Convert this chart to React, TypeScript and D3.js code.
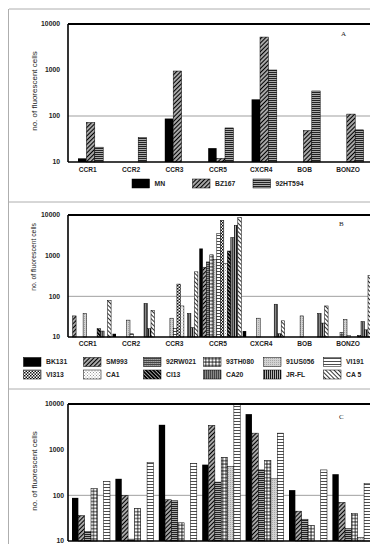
import React from 'react';
import * as d3 from 'd3';

const categories = ['CCR1', 'CCR2', 'CCR3', 'CCR5', 'CXCR4', 'BOB', 'BONZO'];
const yTicks = [10, 100, 1000, 10000];

// panel A isolates
const isolatesA = ['MN', 'BZ167', '92HT594'];
const mnValues = [12, null, 88, 20, 230, null, null];
const bz167Values = [72, null, 950, 12, 5200, 48, 110];
const ht594Values = [21, 34, null, 55, 1000, 350, 50];

// panel B isolates
const isolatesB = ['BK131', 'SM993', '92RW021', '93TH080', '91US056', 'VI191',
  'VI313', 'CA1', 'CI13', 'CA20', 'JR-FL', 'CA 5'];
const bk131Values = [null, 12, null, 1500, 14, null, null];
const sm993Values = [33, null, null, 520, null, null, null];
const rw021Values = [null, null, null, 700, null, null, null];
const th080Values = [null, null, null, 1050, null, null, 13];
const us056Values = [38, 26, 29, 800, 29, 33, 27];
const vi191Values = [null, 12, 16, 3500, null, null, 11];
const vi313Values = [null, null, 200, 7400, null, null, null];
const ca1Values = [null, null, 58, 650, null, null, null];
const ci13Values = [16, null, null, 1300, null, null, 11];
const ca20Values = [14, 67, 38, 2800, 64, 38, 24];
const jrflValues = [null, 16, 17, 5600, 12, 22, 15];
const ca5Values = [80, 45, 400, 8700, 25, 58, 330];

// panel C series (legend falls below the page)
const cSolid = [88, 230, 3500, 470, 6000, 130, 290];
const cHatch = [36, 100, 80, 3400, 2300, 45, 70];
const cGray = [16, 11, 76, 195, 360, 30, 18.6];
const cGrid = [140, 52, 25, 680, 580, 22, 40];
const cDotted = [null, null, null, 430, 230, null, 12];
const cLines = [200, 520, 500, 10000, 2300, 360, 180];

const FONT = 'Liberation Sans, Arial, sans-serif';

const fillsA = ['#000', 'url(#p-hatch)', 'url(#p-hdense)'];
const fillsB = ['#000', 'url(#p-hatch)', 'url(#p-rw)', 'url(#p-grid)', 'url(#p-dot)', 'url(#p-lines)',
  'url(#p-check)', 'url(#p-lcheck)', 'url(#p-dark)', 'url(#p-vgray)', 'url(#p-vblack)', 'url(#p-back)'];
const fillsC = ['#000', 'url(#p-hatch)', 'url(#p-hdense)', 'url(#p-grid)', 'url(#p-dot)', 'url(#p-lines)'];

const x = d3.scaleBand<string>().domain(categories).range([68, 371.8]).padding(0);

type Series = { name: string; fill: string; values: (number | null)[] };

const Patterns = () => (
  <defs>
    <pattern id="p-hatch" width={3} height={3} patternUnits="userSpaceOnUse" patternTransform="rotate(45)">
      <rect width={3} height={3} fill="#fff" />
      <line x1={1.5} y1={0} x2={1.5} y2={3} stroke="#000" strokeWidth={1.7} />
    </pattern>
    <pattern id="p-back" width={3} height={3} patternUnits="userSpaceOnUse" patternTransform="rotate(-45)">
      <rect width={3} height={3} fill="#fff" />
      <line x1={1.5} y1={0} x2={1.5} y2={3} stroke="#000" strokeWidth={0.8} />
    </pattern>
    <pattern id="p-dark" width={2.6} height={2.6} patternUnits="userSpaceOnUse" patternTransform="rotate(-45)">
      <rect width={2.6} height={2.6} fill="#000" />
      <line x1={1.3} y1={0} x2={1.3} y2={2.6} stroke="#fff" strokeWidth={0.6} />
    </pattern>
    <pattern id="p-hdense" width={2} height={2} patternUnits="userSpaceOnUse">
      <rect width={2} height={2} fill="#aaa" />
      <line x1={0} y1={0.5} x2={2} y2={0.5} stroke="#222" strokeWidth={1} />
    </pattern>
    <pattern id="p-rw" width={2} height={2} patternUnits="userSpaceOnUse">
      <rect width={2} height={2} fill="#888" />
      <line x1={0} y1={0.5} x2={2} y2={0.5} stroke="#444" strokeWidth={1} />
      <rect x={1} y={1} width={0.7} height={0.7} fill="#bbb" />
    </pattern>
    <pattern id="p-grid" width={3.4} height={3.4} patternUnits="userSpaceOnUse">
      <rect width={3.4} height={3.4} fill="#fff" />
      <path d="M1.7,0V3.4M0,1.7H3.4" stroke="#000" strokeWidth={0.8} />
    </pattern>
    <pattern id="p-dot" width={2} height={2} patternUnits="userSpaceOnUse">
      <rect width={2} height={2} fill="#d2d2d2" />
      <rect width={1} height={1} fill="#a8a8a8" />
    </pattern>
    <pattern id="p-lines" width={4} height={3} patternUnits="userSpaceOnUse">
      <rect width={4} height={3} fill="#fff" />
      <line x1={0} y1={1.5} x2={4} y2={1.5} stroke="#000" strokeWidth={0.7} />
    </pattern>
    <pattern id="p-check" width={3} height={3} patternUnits="userSpaceOnUse">
      <rect width={3} height={3} fill="#fff" />
      <rect width={1.5} height={1.5} fill="#111" />
      <rect x={1.5} y={1.5} width={1.5} height={1.5} fill="#111" />
    </pattern>
    <pattern id="p-lcheck" width={3} height={3} patternUnits="userSpaceOnUse">
      <rect width={3} height={3} fill="#fff" />
      <rect width={1} height={1} fill="#999" />
      <rect x={1.5} y={1.5} width={1} height={1} fill="#999" />
    </pattern>
    <pattern id="p-vgray" width={2} height={2} patternUnits="userSpaceOnUse">
      <rect width={2} height={2} fill="#888" />
      <line x1={0.5} y1={0} x2={0.5} y2={2} stroke="#333" strokeWidth={0.8} />
    </pattern>
    <pattern id="p-vblack" width={2} height={2} patternUnits="userSpaceOnUse">
      <rect width={2} height={2} fill="#fff" />
      <line x1={0.7} y1={0} x2={0.7} y2={2} stroke="#000" strokeWidth={1.2} />
    </pattern>
  </defs>
);

type PanelProps = {
  top: number;
  bottom: number;
  inner: [number, number];
  series: Series[];
  tag: string;
  tagX: number;
  tagY: number;
  titleY: number;
  titleSize: number;
  tickRight: number;
  labelY: number;
};

const Panel = ({ top, bottom, inner, series, tag, tagX, tagY, titleY, titleSize, tickRight, labelY }: PanelProps) => {
  const y = d3.scaleLog().domain([10, 10000]).range([bottom, top]);
  const sub = d3.scaleBand<string>().domain(series.map(s => s.name)).range(inner).padding(0);
  const [x0, x1] = x.range();
  return (
    <g>
      <line x1={x0} x2={x1} y1={y(100)} y2={y(100)} stroke="#777" strokeWidth={0.7} />
      {categories.map((c, ci) => (
        <g key={c}>
          {series.map(s => {
            const v = s.values[ci];
            if (v == null || v <= 10) return null;
            return (
              <rect key={s.name} x={(x(c) ?? 0) + (sub(s.name) ?? 0)} y={y(v)}
                width={sub.bandwidth()} height={bottom - y(v)} fill={s.fill}
                stroke="#000" strokeWidth={s.fill === '#000' ? 0 : 0.5} />
            );
          })}
          <text x={(x(c) ?? 0) + x.bandwidth() / 2 - 2} y={labelY} textAnchor="middle"
            fontFamily={FONT} fontSize={6.6} fontWeight="bold" fill="#222">{c}</text>
        </g>
      ))}
      <line x1={x0} x2={x1} y1={top} y2={top} stroke="#000" strokeWidth={1.8} />
      <line x1={x0} x2={x1} y1={bottom} y2={bottom} stroke="#000" strokeWidth={1.6} />
      <line x1={x0} x2={x0} y1={top} y2={bottom} stroke="#000" strokeWidth={1.6} />
      {yTicks.map(t => (
        <text key={t} x={tickRight} y={y(t)} dy="0.35em" textAnchor="end"
          fontFamily={FONT} fontSize={6.8} fontWeight="bold" fill="#222">{t}</text>
      ))}
      <text transform={`translate(34,${titleY}) rotate(-90)`} textAnchor="middle" dy="0.35em"
        fontFamily={FONT} fontSize={titleSize} fill="#222">no. of fluorescent cells</text>
      <text x={tagX} y={tagY} fontFamily="Liberation Serif, serif" fontSize={7} fill="#222">{tag}</text>
    </g>
  );
};

const LegendItem = ({ x0, y0, w, name, fill }: { x0: number; y0: number; w: number; name: string; fill: string }) => (
  <g>
    <rect x={x0} y={y0 - 4.5} width={w} height={9} fill={fill} stroke="#000" strokeWidth={0.5} />
    <text x={x0 + w + 5} y={y0} dy="0.35em" fontFamily={FONT} fontSize={6.8} fontWeight="bold" fill="#222">{name}</text>
  </g>
);

export default function App() {
  const seriesA: Series[] = [mnValues, bz167Values, ht594Values].map((v, i) => ({ name: isolatesA[i], fill: fillsA[i], values: v }));
  const seriesB: Series[] = [bk131Values, sm993Values, rw021Values, th080Values, us056Values, vi191Values,
    vi313Values, ca1Values, ci13Values, ca20Values, jrflValues, ca5Values]
    .map((v, i) => ({ name: isolatesB[i], fill: fillsB[i], values: v }));
  const seriesC: Series[] = [cSolid, cHatch, cGray, cGrid, cDotted, cLines]
    .map((v, i) => ({ name: `c${i}`, fill: fillsC[i], values: v }));

  return (
    <svg width={370} height={544} style={{ position: 'absolute', left: 0, top: 0, background: '#fff' }}>
      <Patterns />
      {/* panel frames */}
      <g stroke="#999" strokeWidth={0.8}>
        <line x1={9} x2={370} y1={9} y2={9} />
        <line x1={8.5} x2={8.5} y1={9} y2={544} />
        <line x1={9} x2={370} y1={202} y2={202} />
        <line x1={9} x2={370} y1={389} y2={389} />
      </g>

      <Panel top={24} bottom={162} inner={[10, 35.2]} series={seriesA} tag="A" tagX={341} tagY={36}
        titleY={91} titleSize={8} tickRight={60} labelY={171.5} />
      <g>
        {isolatesA.map((n, i) => (
          <LegendItem key={n} x0={132 + i * 60.5} y0={183.5} w={17.5} name={n} fill={fillsA[i]} />
        ))}
      </g>

      <Panel top={215} bottom={337} inner={[1.1, 43.1]} series={seriesB} tag="B" tagX={339} tagY={226}
        titleY={257} titleSize={6.8} tickRight={60} labelY={346} />
      <g>
        {isolatesB.map((n, i) => (
          <LegendItem key={n} x0={23.5 + (i % 6) * 60} y0={i < 6 ? 362 : 374.5} w={17.5} name={n} fill={fillsB[i]} />
        ))}
      </g>

      <Panel top={404} bottom={541} inner={[4, 42]} series={seriesC} tag="C" tagX={339} tagY={419}
        titleY={471} titleSize={8} tickRight={64} labelY={550} />
    </svg>
  );
}
